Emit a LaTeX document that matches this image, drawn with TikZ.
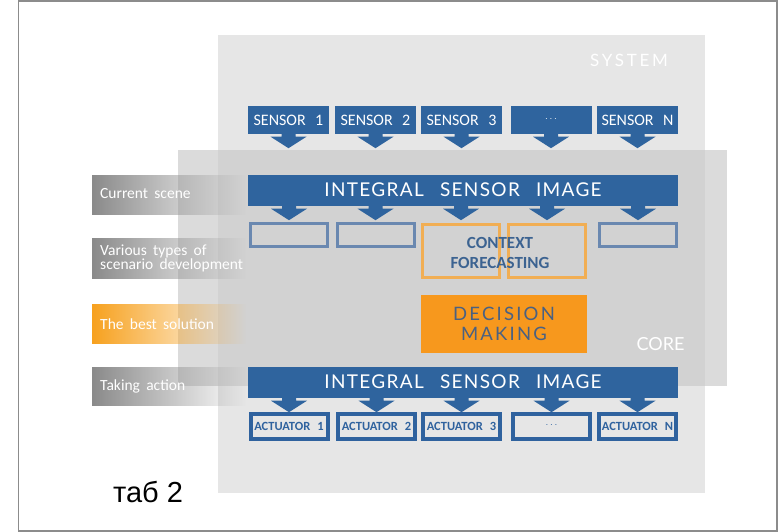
\documentclass[tikz,border=0pt]{standalone}
\usepackage{fontspec}
\setmainfont{Carlito}
\newfontfamily\carl{Carlito}
\newfontfamily\latof{Lato}
\newfontfamily\latosp{Lato}[LetterSpace=7, WordSpace=2.6]
\newfontfamily\latodm{Lato}[LetterSpace=12]
\newfontfamily\latosys{Lato}[LetterSpace=16]
\newfontfamily\labf{Carlito}[WordSpace=1.8]
\newfontfamily\arialf{Liberation Sans}
\usetikzlibrary{fadings}
\definecolor{sysgray}{HTML}{E6E6E6}
\definecolor{coregray}{HTML}{C8C8C8}
\definecolor{barblue}{HTML}{2F649E}
\definecolor{boxedge}{HTML}{6A88B0}
\definecolor{actedge}{HTML}{2F629E}
\definecolor{orng}{HTML}{F7981D}
\definecolor{orngedge}{HTML}{F1AE54}
\definecolor{txtblue}{HTML}{3C6391}
\definecolor{dmtxt}{HTML}{4A6182}
\definecolor{labgray}{HTML}{8A8A8A}
\definecolor{laborange}{HTML}{F7A11E}
\definecolor{framegray}{HTML}{8C8C8C}
\tikzfading[name=fadeR, left color=transparent!0, middle color=transparent!40, right color=transparent!100]
\tikzset{
  sensorbox/.style={fill=barblue, text=white, minimum width=81pt, minimum height=27pt, inner sep=0pt, font=\carl\fontsize{16}{18}\selectfont},
  barbox/.style={fill=barblue, text=white, minimum width=430pt, minimum height=31pt, inner sep=0pt, font=\latosp\fontsize{19}{21}\selectfont},
  rowbox/.style={draw=boxedge, line width=3pt, fill=none, minimum width=77pt, minimum height=23pt, inner sep=0pt},
  fcbox/.style={draw=orngedge, line width=3pt, fill=none, minimum width=77pt, minimum height=53pt, inner sep=0pt},
  dmbox/.style={fill=orng, minimum width=166pt, minimum height=58pt, inner sep=0pt},
  actbox/.style={draw=actedge, line width=4pt, fill=sysgray, minimum width=77pt, minimum height=25pt, inner sep=0pt, text=actedge, font=\carl\bfseries\fontsize{12.5}{14}\selectfont},
  labtext/.style={anchor=west, text=white, inner sep=0pt, align=left, font=\labf\fontsize{15.5}{14}\selectfont},
  blockarrow/.style={fill=barblue}
}
\newcommand{\blockarr}[1]{\fill[blockarrow, shift={#1}] (-7,-1) -- (-7,3) -- (-18,3) -- (0,14.5) -- (18,3) -- (7,3) -- (7,-1) -- cycle;}
\begin{document}
\begin{tikzpicture}[x=1pt,y=-1pt]
\useasboundingbox (0,0) rectangle (778,532);
\fill[white] (0,0) rectangle (778,532);
% frame
\draw[framegray, line width=1.5pt] (18.5,0.8) rectangle (776.9,531.2);
% system and core
\fill[sysgray] (218,35) rectangle (705,493);
\node[text=white, anchor=center, font=\latosys\fontsize{17}{19}\selectfont] (systxt) at (629,60) {SYSTEM};
\fill[coregray, opacity=0.64] (178,150) rectangle (727,386);
\node[text=white, anchor=center, font=\latof\fontsize{18}{20}\selectfont] (coretxt) at (660.5,344) {CORE};
% left labels
\fill[labgray, path fading=fadeR] (92,175) rectangle (246,215);
\node[labtext] (l1) at (100,194) {Current scene};
\fill[labgray, path fading=fadeR] (92,238) rectangle (246,279);
\node[labtext] (l2) at (100,258) {Various types of\\scenario development};
\fill[laborange, path fading=fadeR] (92,304) rectangle (246,344);
\node[labtext] (l3) at (100,324) {The best solution};
\fill[labgray, path fading=fadeR] (92,367) rectangle (246,406);
\node[labtext] (l4) at (100,386) {Taking action};
% sensors
\node[sensorbox] (s1) at (288.5,120) {SENSOR\hspace{3pt} 1};
\node[sensorbox] (s2) at (375.5,120) {SENSOR\hspace{3pt} 2};
\node[sensorbox] (s3) at (461.5,120) {SENSOR\hspace{3pt} 3};
\node[sensorbox] (s4) at (551,120) {\fontsize{10}{12}\selectfont\raisebox{2pt}{$\cdots$}};
\node[sensorbox] (s5) at (637.5,120) {SENSOR\hspace{3pt} N};
% top integral bar
\node[barbox] (ib1) at (463,190) {INTEGRAL SENSOR IMAGE};
\foreach \n in {s1,s2,s3,s4,s5} {\blockarr{(\n.south)}}
% scenario row
\node[rowbox] (r1) at (289,235) {};
\node[rowbox] (r2) at (375.5,235) {};
\node[fcbox] (f1) at (461,251) {};
\node[fcbox] (f2) at (547,251) {};
\node[rowbox] (r5) at (638,235) {};
\node[text=txtblue, align=center, inner sep=0pt, font=\carl\bfseries\fontsize{17}{20}\selectfont] (cf) at (500,252.5) {CONTEXT\\FORECASTING};
\foreach \n in {r1,r2,f1,f2,r5} {\blockarr{(\n |- ib1.south)}}
% decision
\node[dmbox, text=dmtxt, align=center, font=\latodm\fontsize{18.5}{20}\selectfont] (dm) at (504,324) {DECISION\\MAKING};
% bottom integral bar
\node[barbox] (ib2) at (463,382) {INTEGRAL SENSOR IMAGE};
% actuators
\node[actbox] (a1) at (289,426.5) {ACTUATOR\hspace{2pt} 1};
\node[actbox] (a2) at (376.5,426.5) {ACTUATOR\hspace{2pt} 2};
\node[actbox] (a3) at (461.5,426.5) {ACTUATOR\hspace{2pt} 3};
\node[actbox] (a4) at (551.5,426.5) {\mdseries\fontsize{10}{12}\selectfont\raisebox{2pt}{$\cdots$}};
\node[actbox] (a5) at (637.5,426.5) {ACTUATOR\hspace{2pt} N};
\foreach \n in {a1,a2,a3,a4,a5} {\blockarr{(\n |- ib2.south)}}
% caption
\node[anchor=base, inner sep=0pt, font=\arialf\fontsize{29}{32}\selectfont] (cap) at (148,502) {таб 2};
\end{tikzpicture}
\end{document}
